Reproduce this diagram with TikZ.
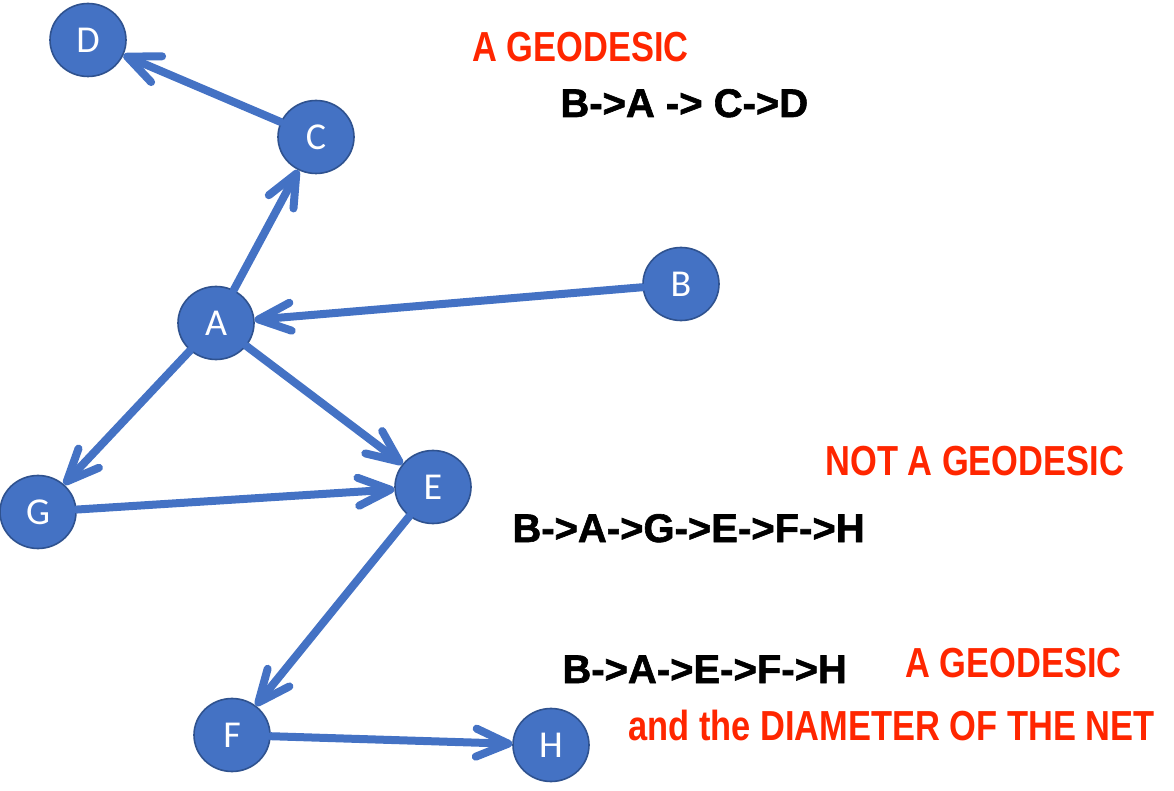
\documentclass[tikz,border=0pt]{standalone}
\usepackage{fontspec}
\setmainfont{Carlito}
\newfontfamily\routefont[FakeBold=1.5]{Liberation Sans Bold}
\newfontfamily\narrowfont[FakeStretch=0.82]{Liberation Sans}
\usetikzlibrary{arrows.meta, shapes.geometric}
\definecolor{nodeblue}{HTML}{4472C4}
\definecolor{nodeedge}{HTML}{2F528F}
\definecolor{geored}{RGB}{255,38,0}

\begin{document}
\begin{tikzpicture}[
			x=0.5pt, y=-0.5pt,
			vertex/.style={ellipse, draw=nodeedge, line width=0.8pt, fill=nodeblue, minimum width=38pt, minimum height=36.5pt, inner sep=0pt, text=white, font=\fontsize{19}{19}\selectfont},
			arrow/.style={draw=nodeblue, line width=4pt, line cap=round, -{Straight Barb[length=16pt, width=14pt, round]}},
			route/.style={anchor=base west, inner sep=0pt, font=\routefont\fontsize{20}{20}\selectfont},
			verdict/.style={anchor=base west, inner sep=0pt, text=geored, font=\narrowfont\bfseries\fontsize{21}{21}\selectfont}
			]
			
			\useasboundingbox (0,0) rectangle (1174,791);
			
			\node[vertex] (D) at (88,40) {D};
			\node[vertex] (C) at (316,137) {C};
			\node[vertex] (A) at (216,323) {A};
			\node[vertex] (B) at (681,284) {B};
			\node[vertex] (E) at (433,487) {E};
			\node[vertex] (G) at (38,512) {G};
			\node[vertex] (F) at (232,735) {F};
			\node[vertex] (H) at (551,745) {H};
			
			\draw[arrow] (C) -- (D);
			\draw[arrow] (A) -- (C);
			\draw[arrow] (B) -- (A);
			\draw[arrow] (A) -- (G);
			\draw[arrow] (A) -- (E);
			\draw[arrow] (G) -- (E);
			\draw[arrow] (E) -- (F);
			\draw[arrow] (F) -- (H);
			
			\node[verdict] (geo1) at (472,62) {A GEODESIC};
			\node[route] (path1) at (560,117) {B->A -> C->D};
			
			\node[verdict] (nogeo) at (825,475) {NOT A GEODESIC};
			\node[route] (path2) at (512,542) {B->A->G->E->F->H};
			
			\node[route] (path3) at (562,683) {B->A->E->F->H};
			\node[verdict] (geo2) at (905,677) {A GEODESIC};
			\node[verdict] (diam) at (628,740) {and the DIAMETER OF THE NET};
			
		\end{tikzpicture}
\end{document}
